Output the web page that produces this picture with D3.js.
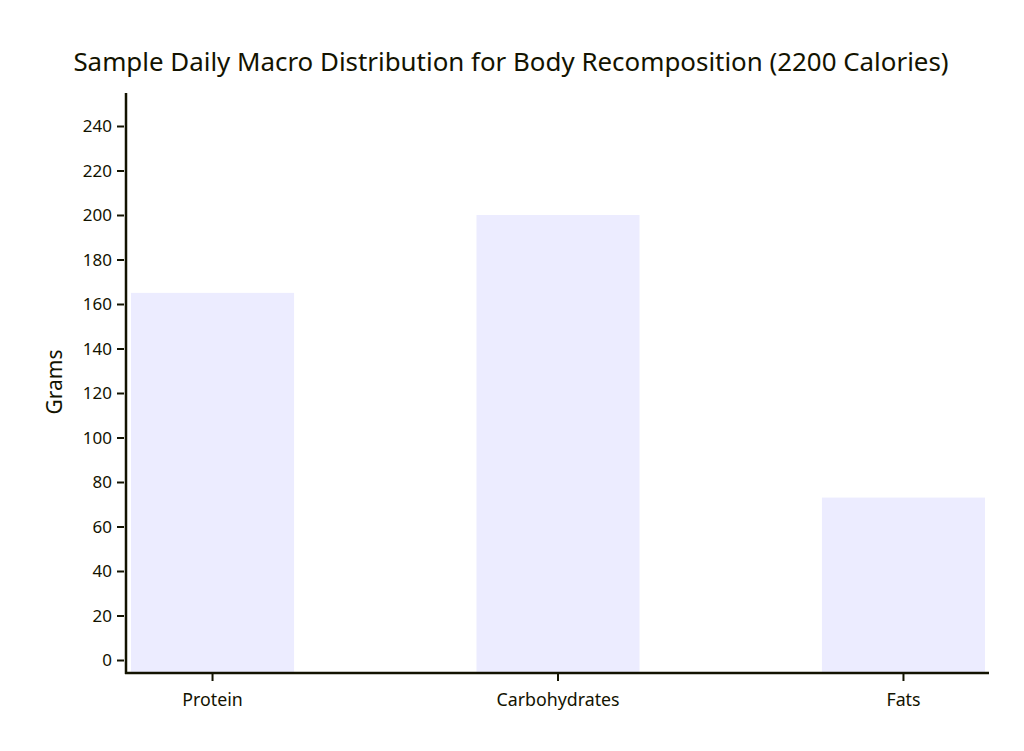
<!DOCTYPE html>
<html><head><meta charset="utf-8">
<script src="https://cdn.jsdelivr.net/npm/d3@7"></script>
<style>body{margin:0;background:#fff}text{font-family:"Noto Sans","DejaVu Sans",sans-serif;fill:#131300}</style>
</head><body>
<svg id="c" width="1024" height="751"></svg>
<script>
const categories = ["Protein", "Carbohydrates", "Fats"];
const grams = [165, 200, 73];
const yTicks = [0, 20, 40, 60, 80, 100, 120, 140, 160, 180, 200, 220, 240];
const title = "Sample Daily Macro Distribution for Body Recomposition (2200 Calories)";
const yLabel = "Grams";

const svg = d3.select("#c");
const axisColor = "#131300";
const barColor = "#ECECFF";

const y = d3.scaleLinear().domain([0, 240]).range([660, 126]);
const x = d3.scaleBand().domain(categories).range([131, 985]).paddingInner(0.528).paddingOuter(0);

svg.append("text").attr("x", 511).attr("y", 71).attr("text-anchor", "middle")
  .attr("font-size", 25.9).text(title);

svg.selectAll("rect.bar").data(grams).enter().append("rect")
  .attr("class", "bar")
  .attr("x", (d, i) => x(categories[i]))
  .attr("y", d => y(d))
  .attr("width", x.bandwidth())
  .attr("height", d => 672 - y(d))
  .attr("fill", barColor);

// y axis
const yAxis = svg.append("g").attr("transform", "translate(126,0)")
  .call(d3.axisLeft(y).tickValues(yTicks).tickSize(7).tickPadding(6).tickFormat(d3.format("d")));
yAxis.select(".domain").remove();
yAxis.selectAll(".tick line").attr("stroke", axisColor).attr("stroke-width", 2).attr("transform", "translate(-2,0)");
yAxis.selectAll(".tick text").attr("font-size", 17).attr("fill", axisColor).attr("font-family", "'Noto Sans', sans-serif").attr("dy", "0.35em").attr("x", -14);
svg.append("line").attr("x1", 126).attr("x2", 126).attr("y1", 93).attr("y2", 674)
  .attr("stroke", axisColor).attr("stroke-width", 2.5);

// x axis
const xAxis = svg.append("g").attr("transform", "translate(0,673)")
  .call(d3.axisBottom(x).tickSize(8).tickPadding(12));
xAxis.select(".domain").remove();
xAxis.selectAll(".tick line").attr("stroke", axisColor).attr("stroke-width", 2);
xAxis.selectAll(".tick text").attr("font-size", 17.8).attr("fill", axisColor).attr("font-family", "'Noto Sans', sans-serif");
svg.append("line").attr("x1", 125).attr("x2", 989).attr("y1", 673).attr("y2", 673)
  .attr("stroke", axisColor).attr("stroke-width", 2.5);

svg.append("text").attr("transform", "translate(62,382) rotate(-90)")
  .attr("text-anchor", "middle").attr("font-size", 21).text(yLabel);
</script>
</body></html>
